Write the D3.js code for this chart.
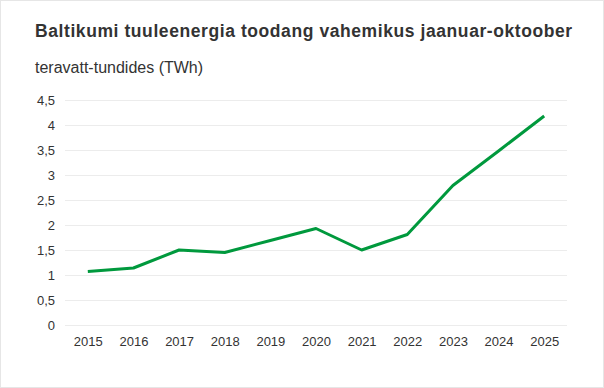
<!DOCTYPE html>
<html>
<head>
<meta charset="utf-8">
<script src="https://cdn.jsdelivr.net/npm/d3@7"></script>
<style>
  body { margin: 0; background: #fff; }
  #chart { width: 604px; height: 388px; }
  text { font-family: Arial, "Liberation Sans", sans-serif; }
</style>
</head>
<body>
<div id="chart"></div>
<script>
const years = ["2015", "2016", "2017", "2018", "2019", "2020", "2021", "2022", "2023", "2024", "2025"];
const values = [1.07, 1.14, 1.50, 1.45, 1.69, 1.93, 1.50, 1.81, 2.79, 3.48, 4.18];
const yTicks = [0, 0.5, 1, 1.5, 2, 2.5, 3, 3.5, 4, 4.5];

const width = 604, height = 388;
const margin = {top: 100, right: 37, bottom: 63, left: 65};
const innerW = width - margin.left - margin.right;
const innerH = height - margin.top - margin.bottom;

const svg = d3.select("#chart").append("svg")
  .attr("width", width)
  .attr("height", height);

// frame
svg.append("rect")
  .attr("x", 0.5).attr("y", 0.5)
  .attr("width", width - 1).attr("height", height - 1)
  .attr("fill", "#fff")
  .attr("stroke", "#e6e6e6");

svg.append("text")
  .attr("x", 35).attr("y", 37)
  .attr("font-size", 17.5).attr("font-weight", "bold")
  .attr("letter-spacing", 0.58)
  .attr("fill", "#333")
  .text("Baltikumi tuuleenergia toodang vahemikus jaanuar-oktoober");

svg.append("text")
  .attr("x", 35).attr("y", 73)
  .attr("font-size", 16)
  .attr("fill", "#333")
  .text("teravatt-tundides (TWh)");

const g = svg.append("g")
  .attr("transform", "translate(" + margin.left + "," + margin.top + ")");

const x = d3.scalePoint()
  .domain(years)
  .range([0, innerW])
  .padding(0.5);

const y = d3.scaleLinear()
  .domain([0, 4.5])
  .range([innerH, 0]);

const fmt = d => String(d).replace(".", ",");

// grid + y labels
const yAxis = g.append("g")
  .call(d3.axisLeft(y).tickValues(yTicks).tickSize(-innerW).tickFormat(fmt).tickPadding(10));
yAxis.select(".domain").remove();
yAxis.selectAll(".tick line").attr("stroke", "#ececec");
yAxis.selectAll(".tick text")
  .attr("font-size", 13).attr("fill", "#333")
  .attr("font-family", "Arial, 'Liberation Sans', sans-serif");

// x labels
const xAxis = g.append("g")
  .attr("transform", "translate(0," + innerH + ")")
  .call(d3.axisBottom(x).tickSize(0).tickPadding(12));
xAxis.select(".domain").remove();
xAxis.selectAll(".tick text")
  .attr("font-size", 13).attr("fill", "#333")
  .attr("font-family", "Arial, 'Liberation Sans', sans-serif");

const line = d3.line()
  .x((d, i) => x(years[i]))
  .y(d => y(d));

g.append("path")
  .datum(values)
  .attr("fill", "none")
  .attr("stroke", "#00993d")
  .attr("stroke-width", 3)
  .attr("stroke-linejoin", "round")
  .attr("d", line);
</script>
</body>
</html>
